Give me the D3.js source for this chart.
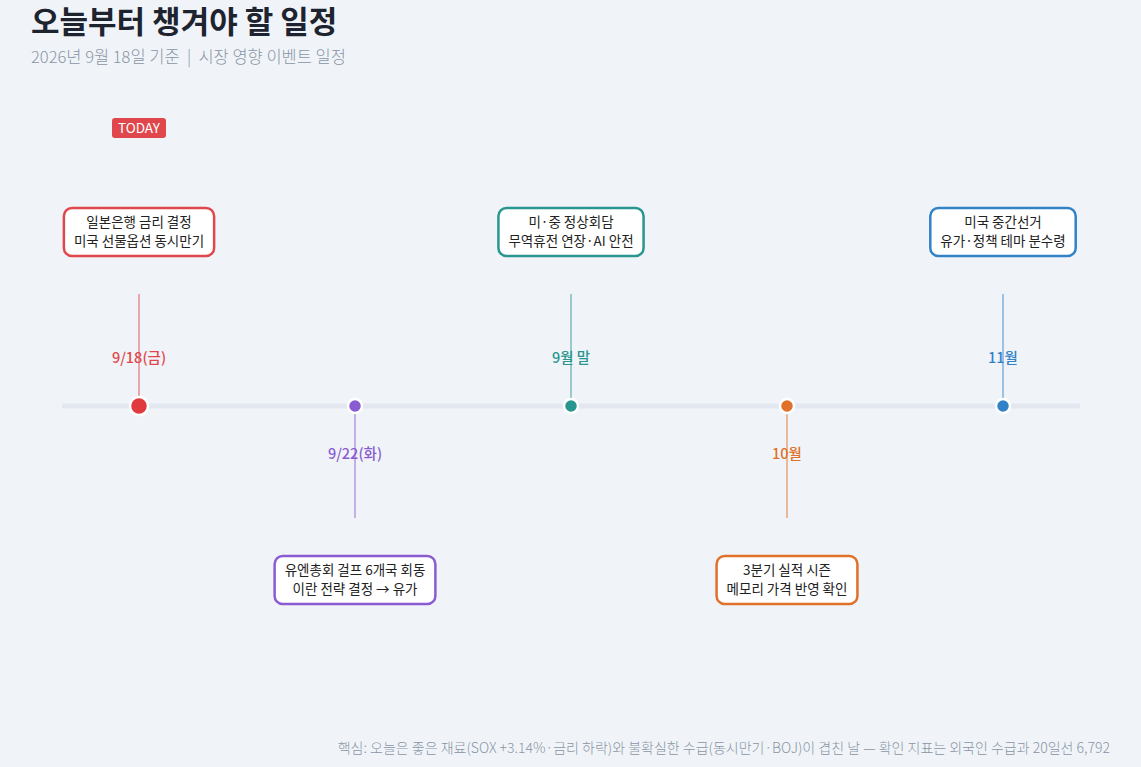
<!DOCTYPE html>
<html><head><meta charset="utf-8">
<script src="https://cdn.jsdelivr.net/npm/d3@7"></script>
<style>
body{margin:0;background:#f0f4f8;font-family:"Noto Sans CJK KR","Noto Sans",sans-serif;}
</style></head><body>
<svg id="chart" width="1141" height="767"></svg>
<script>
const dates = ["9/18(금)", "9/22(화)", "9월 말", "10월", "11월"];
const line1 = ["일본은행 금리 결정", "유엔총회 걸프 6개국 회동", "미·중 정상회담", "3분기 실적 시즌", "미국 중간선거"];
const line2 = ["미국 선물옵션 동시만기", "이란 전략 결정 → 유가", "무역휴전 연장·AI 안전", "메모리 가격 반영 확인", "유가·정책 테마 분수령"];
const sides = ["up", "down", "up", "down", "up"];
const colors = ["#e0474c", "#8a5cd1", "#2a9690", "#e0702a", "#3282c8"];

const svg = d3.select("#chart");
const x = d3.scalePoint().domain(dates).range([139, 1003]);
const axisY = 406;

svg.append("text").attr("x", 31).attr("y", 33).attr("font-size", 31).attr("font-weight", 700)
  .attr("fill", "#1e2330").text("오늘부터 챙겨야 할 일정");
svg.append("text").attr("x", 31).attr("y", 63).attr("font-size", 16.5).attr("fill", "#8a94a6")
  .attr("font-weight", 300).attr("xml:space", "preserve")
  .text("2026년 9월 18일 기준  |  시장 영향 이벤트 일정");

svg.append("line").attr("x1", 62).attr("x2", 1080).attr("y1", axisY).attr("y2", axisY)
  .attr("stroke", "#e2e7f0").attr("stroke-width", 5);

const g = svg.selectAll("g.ev").data(dates).join("g").attr("class", "ev")
  .attr("transform", d => `translate(${x(d)},0)`);

g.append("text").attr("text-anchor", "middle").attr("font-size", 14.5).attr("font-weight", 500)
  .attr("y", (d, i) => sides[i] === "up" ? 363 : 459)
  .attr("fill", (d, i) => colors[i]).text(d => d);

g.append("line").attr("stroke", (d, i) => colors[i]).attr("stroke-opacity", 0.6).attr("stroke-width", 1.5)
  .attr("y1", (d, i) => sides[i] === "up" ? 294 : 414)
  .attr("y2", (d, i) => sides[i] === "up" ? 398 : 518);

g.append("circle").attr("cy", axisY).attr("r", (d, i) => i === 0 ? 9 : 7)
  .attr("fill", (d, i) => i === 0 ? "#e03a3e" : colors[i]).attr("stroke", "#fff").attr("stroke-width", 2.5);

g.each(function (d, i) {
  const el = d3.select(this);
  const top = sides[i] === "up" ? 208 : 556;
  const t = el.append("text").attr("text-anchor", "middle").attr("font-size", 13.5).attr("fill", "#222")
    .attr("font-weight", 400);
  t.append("tspan").attr("x", 0).attr("y", top + 19).text(line1[i]);
  t.append("tspan").attr("x", 0).attr("y", top + 38).text(line2[i]);
  const w = t.node().getBBox().width + 20;
  el.insert("rect", "text:last-of-type").attr("x", -w / 2).attr("y", top).attr("width", w).attr("height", 48)
    .attr("rx", 8).attr("fill", "#fff").attr("stroke", colors[i]).attr("stroke-width", 2.5);
});

const tg = svg.append("g").attr("transform", `translate(${x(dates[0])},128)`);
tg.append("rect").attr("x", -27).attr("y", -10).attr("width", 54).attr("height", 20).attr("rx", 3).attr("fill", "#e0474c");
tg.append("text").attr("text-anchor", "middle").attr("y", 5).attr("font-size", 13.5).attr("fill", "#fff").text("TODAY");

svg.append("text").attr("x", 1110).attr("y", 753).attr("text-anchor", "end").attr("font-size", 14).attr("fill", "#8a94a6")
  .attr("font-weight", 300)
  .text("핵심: 오늘은 좋은 재료(SOX +3.14%·금리 하락)와 불확실한 수급(동시만기·BOJ)이 겹친 날 — 확인 지표는 외국인 수급과 20일선 6,792");
</script></body></html>
